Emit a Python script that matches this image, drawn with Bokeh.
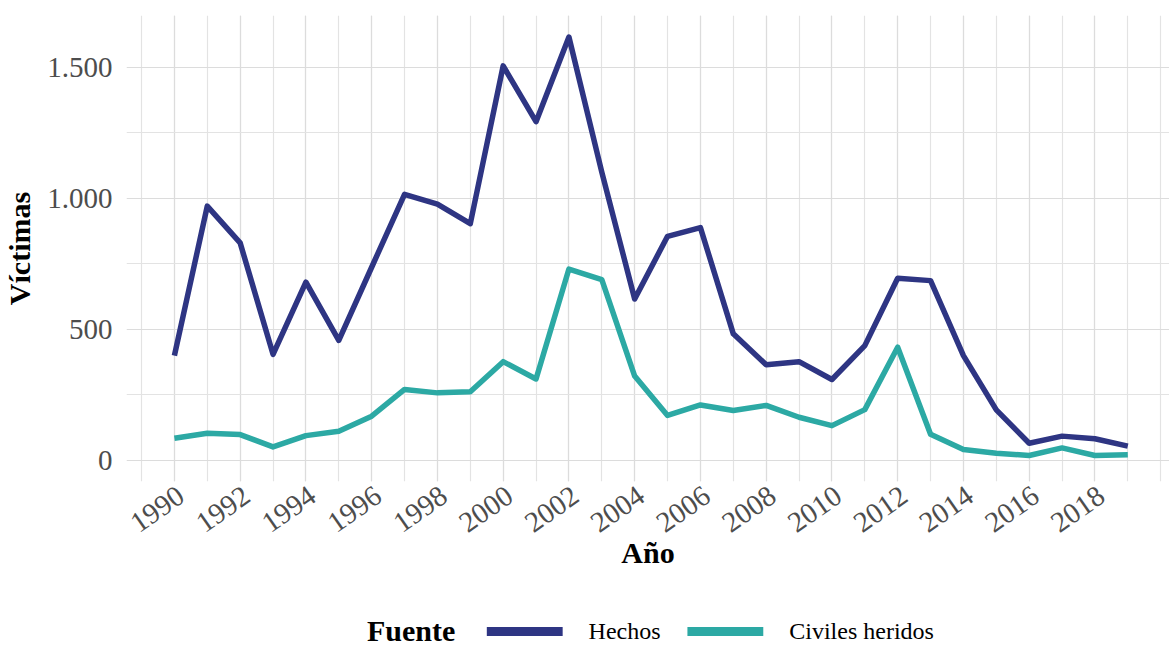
import math
from bokeh.plotting import figure
from bokeh.layouts import column
from bokeh.models import Range1d, FixedTicker, ColumnDataSource
from bokeh.core.properties import value
from bokeh.embed import file_html
from bokeh.resources import INLINE

# ---------------- data ----------------
years = list(range(1990, 2020))
hechos = [400, 970, 830, 405, 680, 458, 737, 1015, 978, 903,
          1505, 1292, 1615, 1100, 616, 855, 888, 483, 365, 377,
          309, 438, 695, 686, 400, 193, 66, 93, 83, 55]
civiles = [85, 104, 99, 52, 95, 112, 169, 271, 258, 262,
           377, 311, 730, 690, 322, 172, 212, 191, 210, 165,
           133, 194, 432, 100, 42, 28, 19, 48, 19, 22]
series_names = ["Hechos", "Civiles heridos"]
x_ticks = list(range(1990, 2019, 2))
x_tick_labels = [str(t) for t in x_ticks]
x_minor = list(range(1989, 2021))
y_ticks = [0, 500, 1000, 1500]
y_tick_labels = ["0", "500", "1.000", "1.500"]
y_minor = [250, 750, 1250]
x_title = "Año"
y_title = "Víctimas"
legend_title = "Fuente"

C_HECHOS = "#2E3583"
C_CIVILES = "#2CA9A4"
FONT = "Liberation Serif"
W = 1169
LH = 34
H1 = 648 - LH
FL = 124          # frame left (px)

p = figure(width=W, height=H1, output_backend="svg", toolbar_location=None,
           x_range=Range1d(1988.543, 2020.268), y_range=Range1d(-80, 1697),
           min_border_left=FL, min_border_right=0, min_border_top=15,
           min_border_bottom=H1 - 481)
p.outline_line_color = None
p.background_fill_color = "white"
p.border_fill_color = "white"

src = ColumnDataSource(dict(year=years, hechos=hechos, civiles=civiles))
p.line("year", "hechos", source=src, line_color=C_HECHOS, line_width=5.5,
       line_join="round")
p.line("year", "civiles", source=src, line_color=C_CIVILES, line_width=5.5,
       line_join="round")

# x axis: labels nudged slightly right of their grid line (as in ggplot's angled labels)
LAB_SHIFT = 0.2
xa = p.xaxis[0]
xa.ticker = FixedTicker(ticks=[t + LAB_SHIFT for t in x_ticks], minor_ticks=[])
xa.major_label_overrides = {t + LAB_SHIFT: l for t, l in zip(x_ticks, x_tick_labels)}
xa.axis_line_color = None
xa.major_tick_line_color = None
xa.minor_tick_line_color = None
xa.major_label_orientation = math.radians(35)
xa.major_label_text_font = FONT
xa.major_label_text_font_size = "29px"
xa.major_label_text_color = "#4D4D4D"
xa.major_label_standoff = 5
xa.axis_label = x_title
xa.axis_label_text_font = FONT
xa.axis_label_text_font_size = "30px"
xa.axis_label_text_font_style = "bold"
xa.axis_label_text_color = "black"
xa.axis_label_standoff = -8

ya = p.yaxis[0]
ya.ticker = FixedTicker(ticks=y_ticks, minor_ticks=y_minor)
ya.major_label_overrides = {t: l for t, l in zip(y_ticks, y_tick_labels)}
ya.axis_line_color = None
ya.major_tick_line_color = None
ya.minor_tick_line_color = None
ya.major_label_text_font = FONT
ya.major_label_text_font_size = "29px"
ya.major_label_text_color = "#4D4D4D"
ya.major_label_standoff = 8
ya.axis_label = y_title
ya.axis_label_text_font = FONT
ya.axis_label_text_font_size = "30px"
ya.axis_label_text_font_style = "bold"
ya.axis_label_text_color = "black"
ya.axis_label_standoff = 8

xg = p.xgrid[0]
xg.ticker = FixedTicker(ticks=x_ticks, minor_ticks=x_minor)
for g in (xg, p.ygrid[0]):
    g.grid_line_color = "#DCDCDC"
    g.grid_line_width = 1.2
    g.minor_grid_line_color = "#E3E3E3"
    g.minor_grid_line_width = 1.2

# ---------------- legend strip (page-pixel coordinates) ----------------
lg = figure(width=W, height=LH, output_backend="svg", toolbar_location=None,
            x_range=Range1d(FL, W), y_range=Range1d(0, LH),
            min_border_left=FL, min_border_right=0, min_border_top=0,
            min_border_bottom=0, border_fill_color="white")
lg.axis.visible = False
lg.grid.visible = False
lg.outline_line_color = None
cy = 17   # glyph centre, px above strip bottom
ty = 18   # text centre
lg.text(x=[365], y=[ty], text=[legend_title], text_font=value(FONT),
        text_font_size="30px", text_font_style="bold", text_color="black",
        text_align="left", text_baseline="middle")
lg.segment(x0=[485], y0=[cy], x1=[561], y1=[cy], line_color=C_HECHOS,
           line_width=9)
lg.text(x=[587], y=[ty], text=[series_names[0]], text_font=value(FONT),
        text_font_size="24px", text_color="black", text_align="left",
        text_baseline="middle")
lg.segment(x0=[686], y0=[cy], x1=[762], y1=[cy], line_color=C_CIVILES,
           line_width=9)
lg.text(x=[788], y=[ty], text=[series_names[1]], text_font=value(FONT),
        text_font_size="24px", text_color="black", text_align="left",
        text_baseline="middle")

layout = column(p, lg, spacing=0)
open("out.html", "w").write(file_html(layout, INLINE))
